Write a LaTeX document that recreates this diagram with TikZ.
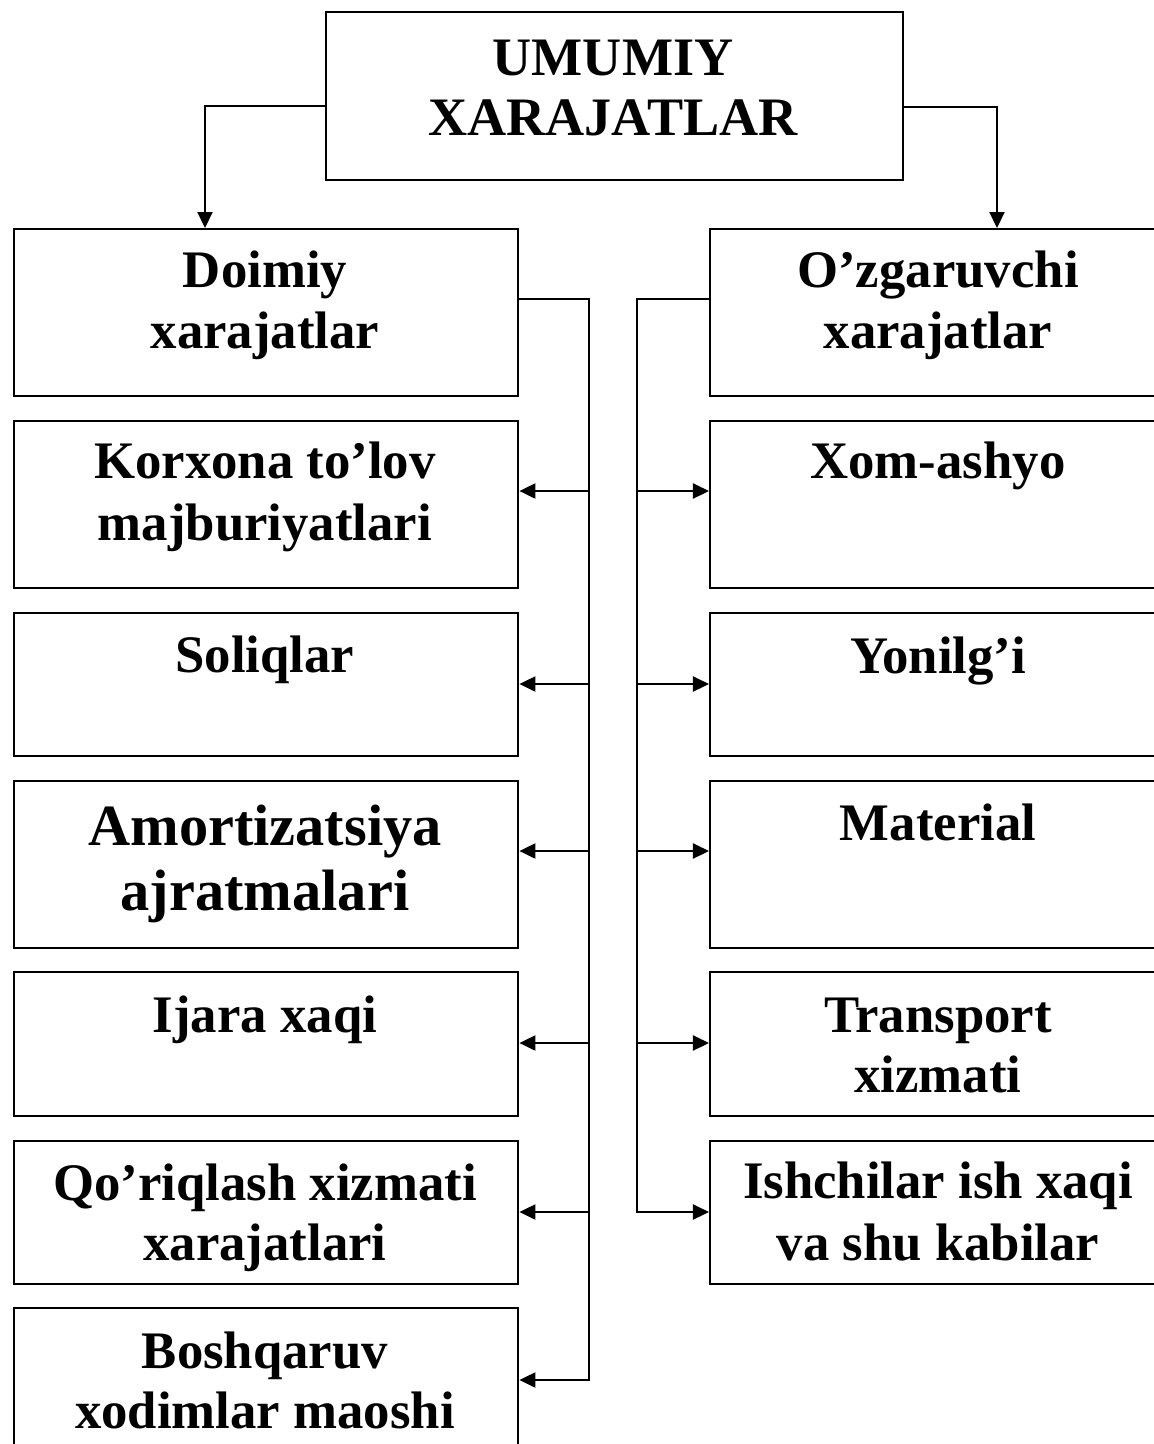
\documentclass[tikz,border=0pt]{standalone}
\usepackage{fontspec}
\setmainfont{Liberation Serif}
\usetikzlibrary{arrows.meta}
\begin{document}
\begin{tikzpicture}[x=0.01cm,y=-0.01cm,
  box/.style={draw,line width=0.6pt,inner sep=0pt,anchor=north west},
  lbl/.style={anchor=base,inner sep=0pt,font=\fontsize{15}{17}\selectfont\bfseries},
  titlelbl/.style={anchor=base,inner sep=0pt,font=\fontsize{15.4}{17}\selectfont\bfseries},
  biglbl/.style={anchor=base,inner sep=0pt,font=\fontsize{16.6}{19}\selectfont\bfseries},
  conn/.style={line width=0.6pt},
  arr/.style={line width=0.6pt,-{Triangle[length=0.16cm,width=0.15cm]}}]
\useasboundingbox (0,0) rectangle (1154,1444);
\clip (0,0) rectangle (1154,1444);
% top box
\node[box,minimum width=5.77cm,minimum height=1.68cm] (top) at (325,11) {};
\node[titlelbl] (t1) at (613,75) {UMUMIY};
\node[titlelbl] (t2) at (613,135) {XARAJATLAR};
% left column
\node[box,minimum width=5.04cm,minimum height=1.67cm] (doim) at (13,228) {};
\node[box,minimum width=5.04cm,minimum height=1.67cm] (korx) at (13,420) {};
\node[box,minimum width=5.04cm,minimum height=1.43cm] (soli) at (13,612) {};
\node[box,minimum width=5.04cm,minimum height=1.67cm] (amor) at (13,780) {};
\node[box,minimum width=5.04cm,minimum height=1.44cm] (ijar) at (13,971) {};
\node[box,minimum width=5.04cm,minimum height=1.43cm] (qori) at (13,1140) {};
\node[box,minimum width=5.04cm,minimum height=1.67cm] (bosh) at (13,1307) {};
% right column
\node[box,minimum width=5.04cm,minimum height=1.67cm] (ozga) at (709,228) {};
\node[box,minimum width=5.04cm,minimum height=1.67cm] (xoma) at (709,420) {};
\node[box,minimum width=5.04cm,minimum height=1.43cm] (yoni) at (709,612) {};
\node[box,minimum width=5.04cm,minimum height=1.67cm] (mate) at (709,780) {};
\node[box,minimum width=5.04cm,minimum height=1.44cm] (tran) at (709,971) {};
\node[box,minimum width=5.04cm,minimum height=1.43cm] (ishc) at (709,1140) {};
% left texts
\node[lbl] (l1a) at (265,287) {Doimiy};
\node[lbl] (l1b) at (265,348) {xarajatlar};
\node[lbl] (l2a) at (265,478) {Korxona to’lov};
\node[lbl] (l2b) at (265,540) {majburiyatlari};
\node[lbl] (l3a) at (265,672) {Soliqlar};
\node[biglbl] (l4a) at (265,845) {Amortizatsiya};
\node[biglbl] (l4b) at (265,910) {ajratmalari};
\node[lbl] (l5a) at (265,1032) {Ijara xaqi};
\node[lbl] (l6a) at (265,1200) {Qo’riqlash xizmati};
\node[lbl] (l6b) at (265,1260) {xarajatlari};
\node[lbl] (l7a) at (265,1368) {Boshqaruv};
\node[lbl] (l7b) at (265,1428) {xodimlar maoshi};
% right texts
\node[lbl] (r1a) at (938,287) {O’zgaruvchi};
\node[lbl] (r1b) at (938,348) {xarajatlar};
\node[lbl] (r2a) at (938,478) {Xom-ashyo};
\node[lbl] (r3a) at (938,673) {Yonilg’i};
\node[lbl] (r4a) at (938,840) {Material};
\node[lbl] (r5a) at (938,1032) {Transport};
\node[lbl] (r5b) at (938,1092) {xizmati};
\node[lbl] (r6a) at (938,1198) {Ishchilar ish xaqi};
\node[lbl] (r6b) at (938,1260) {va shu kabilar};
% top arrows
\draw[arr] (top.west |- 0,106) -| (doim.north -| 205,0);
\draw[arr] (top.east |- 0,107) -| (ozga.north -| 997,0);
% left bus
\coordinate (lb) at (589,1380);
\draw[arr] (doim.east |- 0,299) -| (lb) -- (bosh.east |- lb);
\foreach \nm/\yy in {korx/491,soli/684,amor/851,ijar/1043,qori/1212}
  \draw[arr] (589,\yy) -- (\nm.east |- 0,\yy);
% right bus
\coordinate (rb) at (637,1212);
\draw[arr] (ozga.west |- 0,299) -| (rb) -- (ishc.west |- rb);
\foreach \nm/\yy in {xoma/491,yoni/684,mate/851,tran/1043}
  \draw[arr] (637,\yy) -- (\nm.west |- 0,\yy);
\end{tikzpicture}
\end{document}
